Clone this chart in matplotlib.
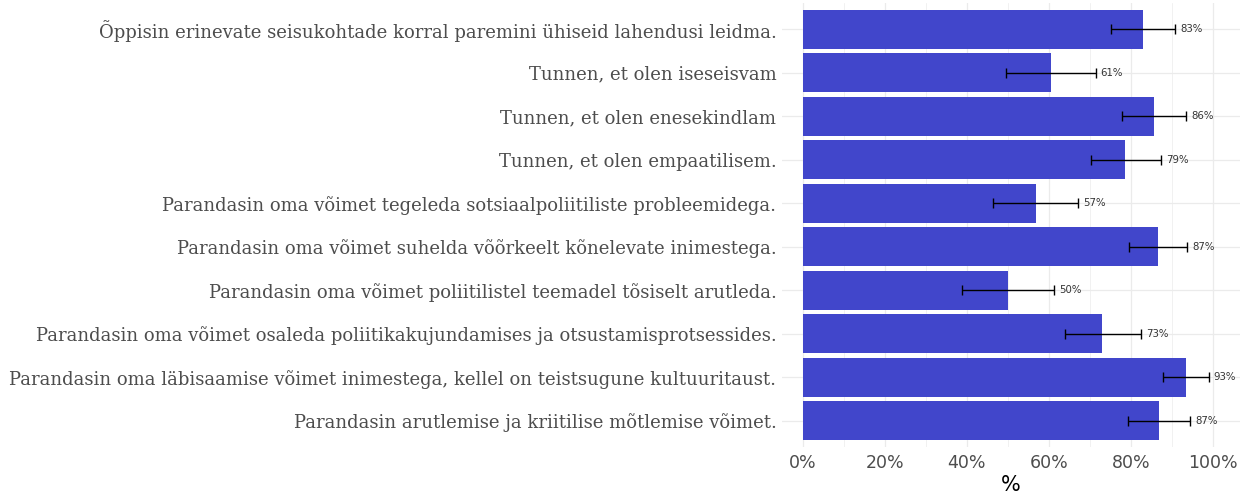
import matplotlib
matplotlib.use("Agg")
import matplotlib.pyplot as plt
import numpy as np

# statements, top to bottom as shown
statements = [
    "Õppisin erinevate seisukohtade korral paremini ühiseid lahendusi leidma.",
    "Tunnen, et olen iseseisvam",
    "Tunnen, et olen enesekindlam",
    "Tunnen, et olen empaatilisem.",
    "Parandasin oma võimet tegeleda sotsiaalpoliitiliste probleemidega.",
    "Parandasin oma võimet suhelda võõrkeelt kõnelevate inimestega.",
    "Parandasin oma võimet poliitilistel teemadel tõsiselt arutleda.",
    "Parandasin oma võimet osaleda poliitikakujundamises ja otsustamisprotsessides.",
    "Parandasin oma läbisaamise võimet inimestega, kellel on teistsugune kultuuritaust.",
    "Parandasin arutlemise ja kriitilise mõtlemise võimet.",
]
share = [82.9, 60.6, 85.6, 78.6, 56.8, 86.6, 50.0, 73.0, 93.4, 86.8]
ci_low = [75.2, 49.5, 77.7, 70.3, 46.3, 79.5, 38.8, 63.9, 87.9, 79.4]
ci_high = [90.8, 71.4, 93.5, 87.3, 67.2, 93.7, 61.2, 82.4, 99.0, 94.4]
xticks = [0, 20, 40, 60, 80, 100]

bar_color = "#4146CB"
text_gray = "#4D4D4D"

fig = plt.figure(figsize=(12.46, 4.95), dpi=100)
ax = fig.add_axes([782 / 1246, 48 / 495, 458 / 1246, 444 / 495])

y = np.arange(len(statements))[::-1]
share = np.array(share)
lo = share - np.array(ci_low)
hi = np.array(ci_high) - share

ax.barh(y, share, height=0.9, color=bar_color, zorder=2)
ax.errorbar(share, y, xerr=[lo, hi], fmt="none", ecolor="black",
            elinewidth=1.0, capsize=3.5, capthick=1.0, zorder=3)
for yi, v, h in zip(y, share, ci_high):
    ax.text(h + 1.2, yi, f"{round(v)}%", va="center", ha="left",
            fontsize=7.3, color="#333333", zorder=4)

ax.set_xlim(-5.1, 106.6)
ax.set_ylim(-0.6, len(statements) - 0.4)
ax.set_xticks(xticks)
ax.set_xticklabels([f"{t}%" for t in xticks])
ax.set_xticks(np.arange(10, 101, 20), minor=True)
ax.set_yticks(y)
ax.set_yticklabels(statements, family="DejaVu Serif", fontsize=12.95, color=text_gray)

ax.tick_params(axis="x", which="both", length=0, pad=5, labelsize=12.5, labelcolor=text_gray)
ax.tick_params(axis="y", length=0, pad=4)
ax.grid(True, which="major", color="#EBEBEB", linewidth=0.9, zorder=0)
ax.grid(True, which="minor", axis="x", color="#EBEBEB", linewidth=0.5, zorder=0)
ax.set_axisbelow(True)
for s in ax.spines.values():
    s.set_visible(False)

ax.set_xlabel("%", fontsize=15, color="black", labelpad=2)

fig.savefig("out.png", dpi=100)
